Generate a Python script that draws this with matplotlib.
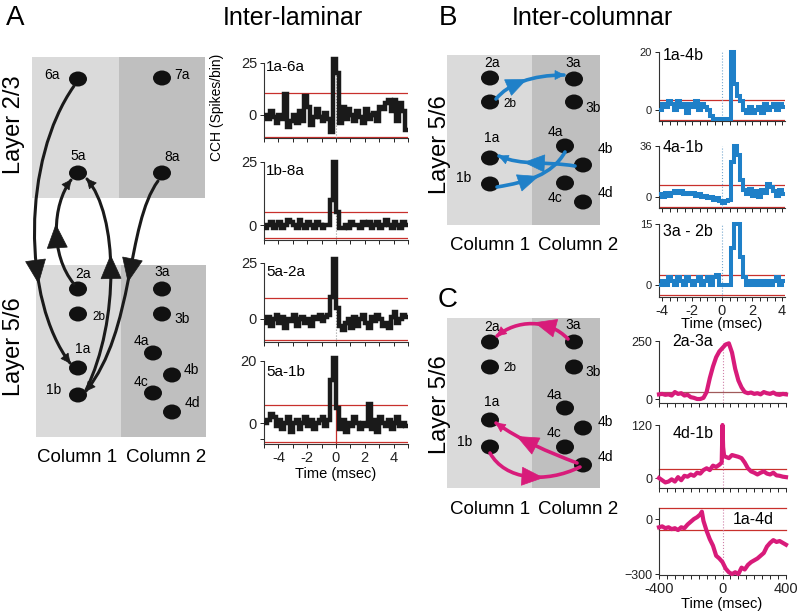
import matplotlib
matplotlib.use('Agg')
import matplotlib.pyplot as plt
import numpy as np
from matplotlib.patches import Rectangle, Ellipse, Polygon, PathPatch
from matplotlib.path import Path

plt.rcParams['font.family'] = ['Liberation Sans', 'DejaVu Sans']

# ---------------- data ----------------
# Panel A: CCH, 0.2 ms bins from -5 to 5 ms
a_edges = np.linspace(-5, 5, 51)
cch_1a_6a = [0, -2, 2, -1, -4, 0, -2, 10, -6, -3, 0, -4, 2, -3, 9, 4, -5, -1, 3, -1,
             -3, 1, -2, -8, 27, 20, -4, 4, -2, 3, 0, -3, 2, -1, -4, 3, -2, 0, 1, -3,
             4, 3, 6, 7, 2, 7, -3, 6, 2, -7]
cch_1b_8a = [-1, 0, 1, -1, 0, 1, -1, 0, 2, 1, 0, -1, 2, 0, -1, 1, 0, -1, 1, 0,
             -1, 0, 0, 10, 25, 5, -1, -1, 0, -1, 1, 0, 0, -1, 1, 0, 1, -1, 0, 1,
             -1, 0, 2, 0, -1, 1, 0, -1, 1, 0]
cch_5a_2a = [-2, 1, -3, 0, 2, -2, 1, -4, 0, -1, 2, -3, 0, 1, -2, 0, -3, 1, 0, 2,
             -1, 1, 2, 10, 27, 5, -3, -5, -2, 0, -4, 1, -3, 0, 2, -2, -4, 1, -1, 2,
             0, -3, -2, -4, 1, 3, -2, 0, 2, 1]
cch_5a_1b = [0, 1, 3, 2, -1, 1, -2, 0, 2, -3, 0, 1, -2, 0, 2, -1, 1, -2, 0, 1,
             2, -1, 1, 14, 21, 5, -2, 1, -3, 0, -1, 2, 0, -2, 0, -1, 6, -2, 1, -3,
             2, 0, -1, 1, -2, 0, 2, -1, 0, -1]
a_labels = ['1a-6a', '1b-8a', '5a-2a', '5a-1b']
a_thr = [(10.6, -10.6), (5.2, -5.2), (9.4, -9.4), (5.8, -6.2)]
a_ytop = [25, 25, 25, 20]

# Panel B: CCH, 0.2 ms bins from -4.2 to 4.2 ms
b_edges = np.linspace(-4.2, 4.2, 43)
cch_1a_4b = [0, 2, 1, 3, 2, 0, 3, 1, 2, -1, 2, 1, 3, 0, 2, 1, 0, -2, -3, -3,
             -3, -3, -3, -3, 20, 9, 5, 3, 0, -1, 1, -1, 0, 1, -1, 2, 0, 1, 2, 0, 2, 1]
cch_4a_1b = [2, 0, 3, 1, 3, 4, 3, 4, 2, 3, 2, 3, 1, 2, 0, 1, -1, 0, -2, -1,
             -3, -4, -3, -2, 25, 36, 30, 12, 5, 2, 6, 1, 4, 0, 5, 3, 9, 7, 4, 1, 5, 2]
cch_3a_2b = [0, 1, 0, 2, 1, 0, 2, 1, 0, 2, 1, 0, 1, 2, 0, 1, 2, 0, 2, 2.5,
             0, 0, 0, 0, 9, 15, 15, 7, 2, 0, 1, 0, 1, 0, 1, 0, 1, 0, 1, 2, 0, 1]
b_labels = ['1a-4b', '4a-1b', '3a - 2b']
b_thr = [(3.4, -3.4), (8.5, -7.3), (2.5, -2.5)]
b_ytop = [20, 36, 15]

# Panel C: slow CCH (msec)
c1_t = [-400, -380, -360, -340, -320, -300, -280, -260, -240, -220, -200, -180, -160,
        -140, -120, -100, -80, -60, -40, -20, 0, 20, 40, 60, 80, 100, 120, 140, 160,
        180, 200, 220, 240, 260, 280, 300, 320, 340, 360, 380, 400]
cch_2a_3a = [20, 22, 18, 20, 15, 30, 22, 25, 15, 18, 8, 5, 0, 0, 5, 30, 90, 140, 180, 205,
             220, 235, 240, 200, 130, 80, 50, 30, 25, 28, 22, 25, 20, 30, 25, 22, 28, 20,
             18, 22, 20]
c2_t = [-400, -380, -360, -340, -320, -300, -280, -260, -240, -220, -200, -180, -160,
        -140, -120, -100, -80, -60, -40, -20, -5, 0, 4, 10, 20, 40, 60, 80, 100, 120,
        140, 160, 180, 200, 220, 240, 260, 280, 300, 320, 340, 360, 380, 400]
cch_4d_1b = [0, -5, -10, -8, -3, -8, 2, -5, 5, 3, 8, 5, 12, 10, 18, 22, 18, 28, 25, 30,
             35, 120, 70, 50, 48, 45, 52, 50, 48, 45, 35, 22, 15, 12, 8, 12, 15, 10, 8, 12,
             6, 5, 3, 2]
c3_t = [-400, -380, -360, -340, -320, -300, -280, -260, -240, -220, -200, -180, -160,
        -140, -130, -120, -100, -80, -60, -40, -20, 0, 20, 40, 60, 80, 100, 120, 140,
        160, 180, 200, 220, 240, 260, 280, 300, 320, 340, 360, 380, 400]
cch_1a_4d = [-45, -40, -50, -45, -55, -50, -60, -45, -50, -30, -15, 0, 10, 25, 40, -10,
             -65, -110, -145, -200, -215, -235, -270, -290, -300, -290, -300, -265, -275,
             -250, -235, -225, -215, -200, -185, -150, -130, -115, -125, -120, -130, -140]
c_labels = ['2a-3a', '4d-1b', '1a-4d']
c_thr = [(30,), (20,), (60, -60)]

# ---------------- figure ----------------
W, H = 800, 614
fig = plt.figure(figsize=(8, 6.14), dpi=100)
ov = fig.add_axes([0, 0, 1, 1])
ov.set_xlim(0, W)
ov.set_ylim(H, 0)
ov.axis('off')

LIGHT = '#dadada'
DARK = '#bfbfbf'
BLACK = '#1a1a1a'
BLUE = '#1f80c8'
PINK = '#d81b7a'
RED = '#c8302c'


def rect(x0, y0, x1, y1, c):
    ov.add_patch(Rectangle((x0, y0), x1 - x0, y1 - y0, fc=c, ec='none', zorder=0))


def dot(x, y):
    ov.add_patch(Ellipse((x, y), 18, 15, fc='#111111', ec='none', zorder=3))


def lab(x, y, s, size=10, **kw):
    ov.text(x, y, s, fontsize=size, ha='center', va='center', **kw)


def bez(P, t):
    P = np.asarray(P, float)
    return ((1 - t) ** 3) * P[0] + 3 * (1 - t) ** 2 * t * P[1] + 3 * (1 - t) * t ** 2 * P[2] + t ** 3 * P[3]


def dbez(P, t):
    P = np.asarray(P, float)
    return 3 * (1 - t) ** 2 * (P[1] - P[0]) + 6 * (1 - t) * t * (P[2] - P[1]) + 3 * t ** 2 * (P[3] - P[2])


def head(P, t, L, Wd, color, tip_at_point=False):
    c = bez(P, t)
    d = dbez(P, t)
    d = d / np.hypot(*d)
    n = np.array([-d[1], d[0]])
    if tip_at_point:
        tip = c
        base = c - d * L
    else:
        tip = c + d * L / 2
        base = c - d * L / 2
    ov.add_patch(Polygon([tip, base + n * Wd / 2, base - n * Wd / 2], closed=True,
                         fc=color, ec=color, lw=0.5, zorder=5))


def curve(P, color, lw, ts, L, Wd, end=True):
    path = Path(P, [Path.MOVETO, Path.CURVE4, Path.CURVE4, Path.CURVE4])
    ov.add_patch(PathPatch(path, fc='none', ec=color, lw=lw, zorder=4, capstyle='round'))
    for t in ts:
        head(P, t, L, Wd, color)
    if end:
        head(P, 1.0, 9, 9, color, tip_at_point=True)


# ----- Panel A diagram -----
ov.text(15, 18, 'A', fontsize=20, ha='center', va='center')
ov.text(293, 18, 'Inter-laminar', fontsize=18, ha='center', va='center')
rect(32, 57, 119, 198, LIGHT)
rect(119, 57, 205, 198, DARK)
rect(36, 265, 121, 437, LIGHT)
rect(121, 265, 206, 437, DARK)
ov.text(14, 125, 'Layer 2/3', fontsize=17, rotation=90, ha='center', va='center')
ov.text(14, 347, 'Layer 5/6', fontsize=17, rotation=90, ha='center', va='center')
ov.text(77, 458, 'Column 1', fontsize=13.5, ha='center', va='center')
ov.text(166, 458, 'Column 2', fontsize=13.5, ha='center', va='center')

dotsA = {'6a': (78, 79), '7a': (162, 78), '5a': (78, 173), '8a': (162, 173),
         '2a': (78, 289), '2b': (78, 314), '3a': (162, 289), '3b': (162, 314),
         '1a': (78, 368), '1b': (78, 395), '4a': (153, 353), '4b': (172, 375),
         '4c': (153, 393), '4d': (172, 412)}
for k, (x, y) in dotsA.items():
    dot(x, y)
labA = {'6a': (52, 75), '7a': (182, 75), '5a': (78, 156), '8a': (172, 157),
        '2a': (83, 274), '2b': (99, 317), '3a': (162, 272), '3b': (182, 319),
        '1a': (83, 349), '1b': (54, 390), '4a': (141, 341), '4b': (191, 370),
        '4c': (141, 382), '4d': (192, 403)}
for k, (x, y) in labA.items():
    lab(x, y, k, size=8.5 if k == '2b' else 10)

curve([(74, 86), (22, 160), (22, 300), (70, 363)], BLACK, 2.2, [0.64], 23, 20)
curve([(74, 284), (50, 255), (52, 205), (71, 180)], BLACK, 2.2, [0.45], 23, 20)
curve([(86, 390), (120, 320), (118, 215), (87, 179)], BLACK, 2.2, [0.52], 23, 20)
curve([(158, 181), (126, 225), (135, 330), (86, 391)], BLACK, 2.2, [0.46], 23, 20)

# ----- Panel B diagram -----
ov.text(448, 18, 'B', fontsize=20, ha='center', va='center')
ov.text(592, 18, 'Inter-columnar', fontsize=18, ha='center', va='center')
rect(447, 55, 532, 225, LIGHT)
rect(532, 55, 600, 225, DARK)
ov.text(440, 145, 'Layer 5/6', fontsize=17, rotation=90, ha='center', va='center')
ov.text(490, 246, 'Column 1', fontsize=13.5, ha='center', va='center')
ov.text(578, 246, 'Column 2', fontsize=13.5, ha='center', va='center')

dotsB = {'2a': (490, 78), '2b': (490, 102), '3a': (574, 79), '3b': (574, 102),
         '1a': (490, 158), '1b': (490, 184), '4a': (565, 146), '4b': (583, 165),
         '4c': (565, 183), '4d': (583, 202)}
labB = {'2a': (492, 63), '2b': (510, 104), '3a': (573, 63), '3b': (593, 108),
        '1a': (492, 138), '1b': (464, 178), '4a': (555, 132), '4b': (605, 149),
        '4c': (555, 198), '4d': (605, 193)}
for k, (x, y) in dotsB.items():
    dot(x, y)
for k, (x, y) in labB.items():
    lab(x, y, k, size=8.5 if k == '2b' else 10)
curve([(496, 99), (508, 84), (532, 75), (564, 75)], BLUE, 2.6, [0.42], 20, 17)
curve([(575, 166), (545, 161), (522, 166), (499, 156)], BLUE, 2.6, [0.5], 20, 17)
curve([(497, 187), (527, 182), (552, 175), (565, 152)], BLUE, 2.6, [0.38], 20, 17, end=False)

# ----- Panel C diagram -----
ov.text(448, 300, 'C', fontsize=20, ha='center', va='center')
rect(447, 318, 532, 488, LIGHT)
rect(532, 318, 600, 488, DARK)
ov.text(440, 405, 'Layer 5/6', fontsize=17, rotation=90, ha='center', va='center')
ov.text(490, 509, 'Column 1', fontsize=13.5, ha='center', va='center')
ov.text(578, 509, 'Column 2', fontsize=13.5, ha='center', va='center')
dotsC = {'2a': (490, 342), '2b': (490, 367), '3a': (574, 342), '3b': (574, 367),
         '1a': (490, 420), '1b': (490, 447), '4a': (565, 408), '4b': (583, 428),
         '4c': (565, 447), '4d': (583, 465)}
labC = {'2a': (492, 327), '2b': (510, 368), '3a': (573, 325), '3b': (593, 372),
        '1a': (492, 402), '1b': (465, 442), '4a': (554, 395), '4b': (605, 422),
        '4c': (554, 433), '4d': (605, 457)}
for k, (x, y) in dotsC.items():
    dot(x, y)
for k, (x, y) in labC.items():
    lab(x, y, k, size=8.5 if k == '2b' else 10)
curve([(568, 339), (548, 318), (516, 320), (497, 336)], PINK, 2.6, [0.33], 21, 18)
curve([(577, 463), (548, 452), (520, 440), (496, 423)], PINK, 2.6, [0.6], 21, 18)
curve([(490, 453), (505, 480), (545, 484), (580, 467)], PINK, 2.6, [0.55], 21, 18, end=False)


# ---------------- CCH axes ----------------
def pax(x0, y0, x1, y1):
    a = fig.add_axes([x0 / W, 1 - y1 / H, (x1 - x0) / W, (y1 - y0) / H])
    a.set_facecolor('none')
    for s in ('top', 'right'):
        a.spines[s].set_visible(False)
    for s in ('left', 'bottom'):
        a.spines[s].set_linewidth(0.8)
        a.spines[s].set_color('#333333')
    a.tick_params(length=3, width=0.7, pad=2, colors='#222222')
    return a


# Panel A plots
a_data = [cch_1a_6a, cch_1b_8a, cch_5a_2a, cch_5a_1b]
a_boxes = [(63, 138, -11.06), (162, 240, -5.95), (263, 342, -10.27), (361, 444, -6.77)]
for i, (vals, (y0, y1, lo)) in enumerate(zip(a_data, a_boxes)):
    ax = pax(264, y0, 408, y1)
    ax.set_xlim(-5, 5)
    ax.set_ylim(lo, a_ytop[i])
    for th in a_thr[i]:
        ax.axhline(th, color=RED, lw=0.9, zorder=1)
    if i == 3:
        ax.axvline(0, color=RED, lw=0.9, zorder=1)
    else:
        ax.axvline(0, color='#999999', lw=0.8, ls=':', zorder=1)
    ax.stairs(vals, a_edges, color=BLACK, lw=3.2, baseline=None, clip_on=False, zorder=3)
    ax.set_xticks(range(-5, 6))
    if i == 3:
        ax.set_xticklabels(['' if v % 2 else str(v) for v in range(-5, 6)])
        ax.set_yticks([-5, 0, 20])
        ax.set_yticklabels(['', '0', '20'])
    else:
        ax.set_xticklabels([])
        ax.set_yticks([0, a_ytop[i]])
    ax.tick_params(labelsize=10.5)
    ov.text(266, [67, 171, 272, 372][i], a_labels[i], fontsize=11, ha='left', va='center')
ov.text(217, 107, 'CCH (Spikes/bin)', fontsize=10, rotation=90, ha='center', va='center')
ov.text(336, 474, 'Time (msec)', fontsize=10.5, ha='center', va='center')

# Panel B plots
b_data = [cch_1a_4b, cch_4a_1b, cch_3a_2b]
b_boxes = [(52, 121, -3.79), (146, 208, -7.76), (224, 297, -2.95)]
for i, (vals, (y0, y1, lo)) in enumerate(zip(b_data, b_boxes)):
    ax = pax(659, y0, 785, y1)
    ax.set_xlim(-4.2, 4.2)
    ax.set_ylim(lo, b_ytop[i])
    for th in b_thr[i]:
        ax.axhline(th, color=RED, lw=0.9, zorder=1)
    ax.axvline(0, color='#7aaad0', lw=0.8, ls=':', zorder=1)
    ax.stairs(vals, b_edges, color=BLUE, lw=2.9, baseline=None, clip_on=False, zorder=3)
    ticks = np.arange(-4, 4.01, 0.5)
    ax.set_xticks(ticks)
    if i == 2:
        ax.set_xticklabels([str(int(v)) if v % 2 == 0 else '' for v in ticks])
        ax.tick_params(axis='x', labelsize=10.5)
    else:
        ax.set_xticklabels([])
    ax.set_yticks([0, b_ytop[i]])
    ax.tick_params(axis='y', labelsize=8)
    ov.text(663, [55, 148, 232][i], b_labels[i], fontsize=11.5, ha='left', va='center')
ov.text(722, 324, 'Time (msec)', fontsize=10.5, ha='center', va='center')

# Panel C plots
c_t = [c1_t, c2_t, c3_t]
c_data = [cch_2a_3a, cch_4d_1b, cch_1a_4d]
c_boxes = [(341, 403, -17.2, 250), (425, 488, -22.6, 120), (508, 575, -305, 60)]
for i, (tt, vals, (y0, y1, lo, hi)) in enumerate(zip(c_t, c_data, c_boxes)):
    ax = pax(659, y0, 786, y1)
    ax.set_xlim(-400, 400)
    ax.set_ylim(lo, hi)
    for th in c_thr[i]:
        ax.axhline(th, color='#a05a5a' if i == 0 else RED, lw=0.9, zorder=1, clip_on=False)
    ax.axvline(0, color='#d080a8', lw=0.8, ls=':', zorder=1)
    ax.plot(tt, vals, color=PINK, lw=3.0, clip_on=False, zorder=3, solid_joinstyle='round')
    ticks = np.arange(-400, 401, 50)
    ax.set_xticks(ticks)
    if i == 2:
        ax.set_xticklabels([str(v) if v in (-400, 0, 400) else '' for v in ticks])
        ax.tick_params(axis='x', labelsize=10.5)
        ax.set_yticks([-300, 0])
    else:
        ax.set_xticklabels([])
        ax.set_yticks([0, hi])
    ax.tick_params(axis='y', labelsize=9)
c_lab_pos = [(672, 341, 'left'), (673, 433, 'left'), (753, 520, 'center')]
for (x, y, ha), s in zip(c_lab_pos, c_labels):
    ov.text(x, y, s, fontsize=11.5, ha=ha, va='center')
ov.text(722, 604, 'Time (msec)', fontsize=10.5, ha='center', va='center')

fig.savefig('out.png', dpi=100)
